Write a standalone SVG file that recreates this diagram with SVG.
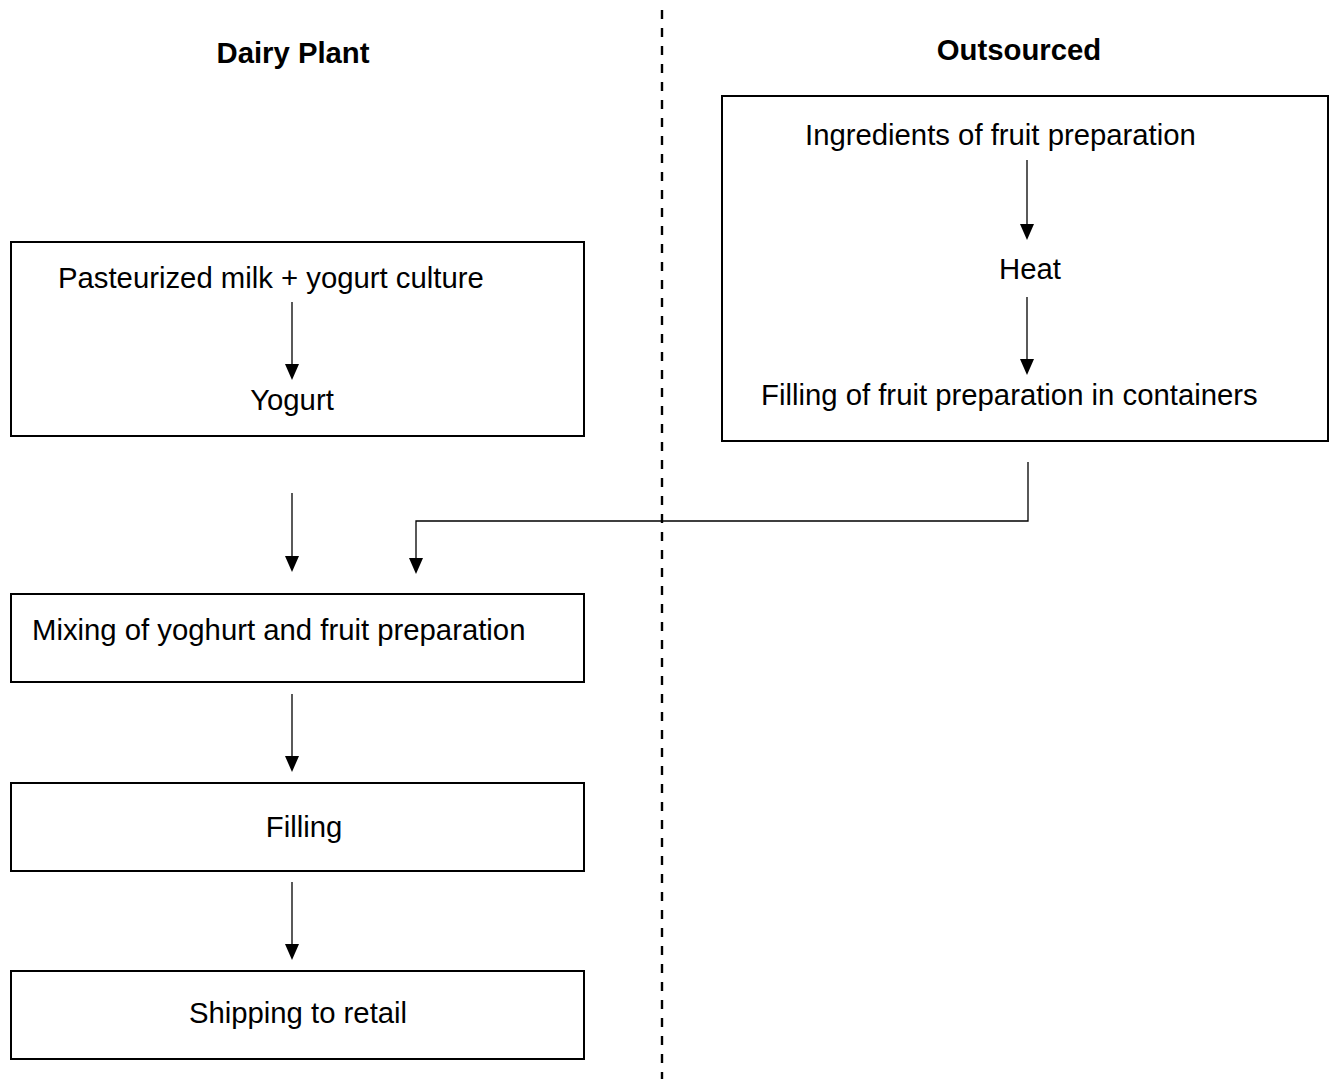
<svg xmlns="http://www.w3.org/2000/svg" width="1335" height="1079" viewBox="0 0 1335 1079">
<defs>
<style>
.box{fill:#fff;stroke:#000;stroke-width:2}
.t{font-family:"Liberation Sans",Arial,sans-serif;font-size:29.3px;fill:#000}
.h{font-family:"Liberation Sans",Arial,sans-serif;font-size:29.3px;font-weight:bold;fill:#000}
.c{fill:none;stroke:#000;stroke-width:1.3}
.ar{fill:#000}
</style>
</defs>
<rect width="1335" height="1079" fill="#fff"/>
<line x1="662" y1="10" x2="662" y2="1079" stroke="#000" stroke-width="2.4" stroke-dasharray="9 9"/>
<text class="h" x="293" y="63" text-anchor="middle">Dairy Plant</text>
<text class="h" x="1019" y="60" text-anchor="middle">Outsourced</text>
<g id="dairy-top">
<rect class="box" x="11" y="242" width="573" height="194"/>
<text class="t" x="58" y="288">Pasteurized milk + yogurt culture</text>
<line class="c" x1="292" y1="302" x2="292" y2="365"/>
<path class="ar" d="M285,364 L299,364 L292,380 Z"/>
<text class="t" x="292" y="410" text-anchor="middle">Yogurt</text>
</g>
<g id="outsourced">
<rect class="box" x="722" y="96" width="606" height="345"/>
<text class="t" x="805" y="145">Ingredients of fruit preparation</text>
<line class="c" x1="1027" y1="160" x2="1027" y2="225"/>
<path class="ar" d="M1020,224 L1034,224 L1027,240 Z"/>
<text class="t" x="1030" y="279" text-anchor="middle">Heat</text>
<line class="c" x1="1027" y1="297" x2="1027" y2="360"/>
<path class="ar" d="M1020,359 L1034,359 L1027,375 Z"/>
<text class="t" x="761" y="405">Filling of fruit preparation in containers</text>
</g>
<g id="mixing">
<rect class="box" x="11" y="594" width="573" height="88"/>
<text class="t" x="32" y="640">Mixing of yoghurt and fruit preparation</text>
</g>
<g id="filling">
<rect class="box" x="11" y="783" width="573" height="88"/>
<text class="t" x="304" y="837" text-anchor="middle">Filling</text>
</g>
<g id="shipping">
<rect class="box" x="11" y="971" width="573" height="88"/>
<text class="t" x="298" y="1023" text-anchor="middle">Shipping to retail</text>
</g>
<g id="connectors">
<line class="c" x1="292" y1="493" x2="292" y2="557"/>
<path class="ar" d="M285,556 L299,556 L292,572 Z"/>
<polyline class="c" points="1028,462 1028,521 416,521 416,559"/>
<path class="ar" d="M409,558 L423,558 L416,574 Z"/>
<line class="c" x1="292" y1="694" x2="292" y2="757"/>
<path class="ar" d="M285,756 L299,756 L292,772 Z"/>
<line class="c" x1="292" y1="882" x2="292" y2="945"/>
<path class="ar" d="M285,944 L299,944 L292,960 Z"/>
</g>
</svg>
